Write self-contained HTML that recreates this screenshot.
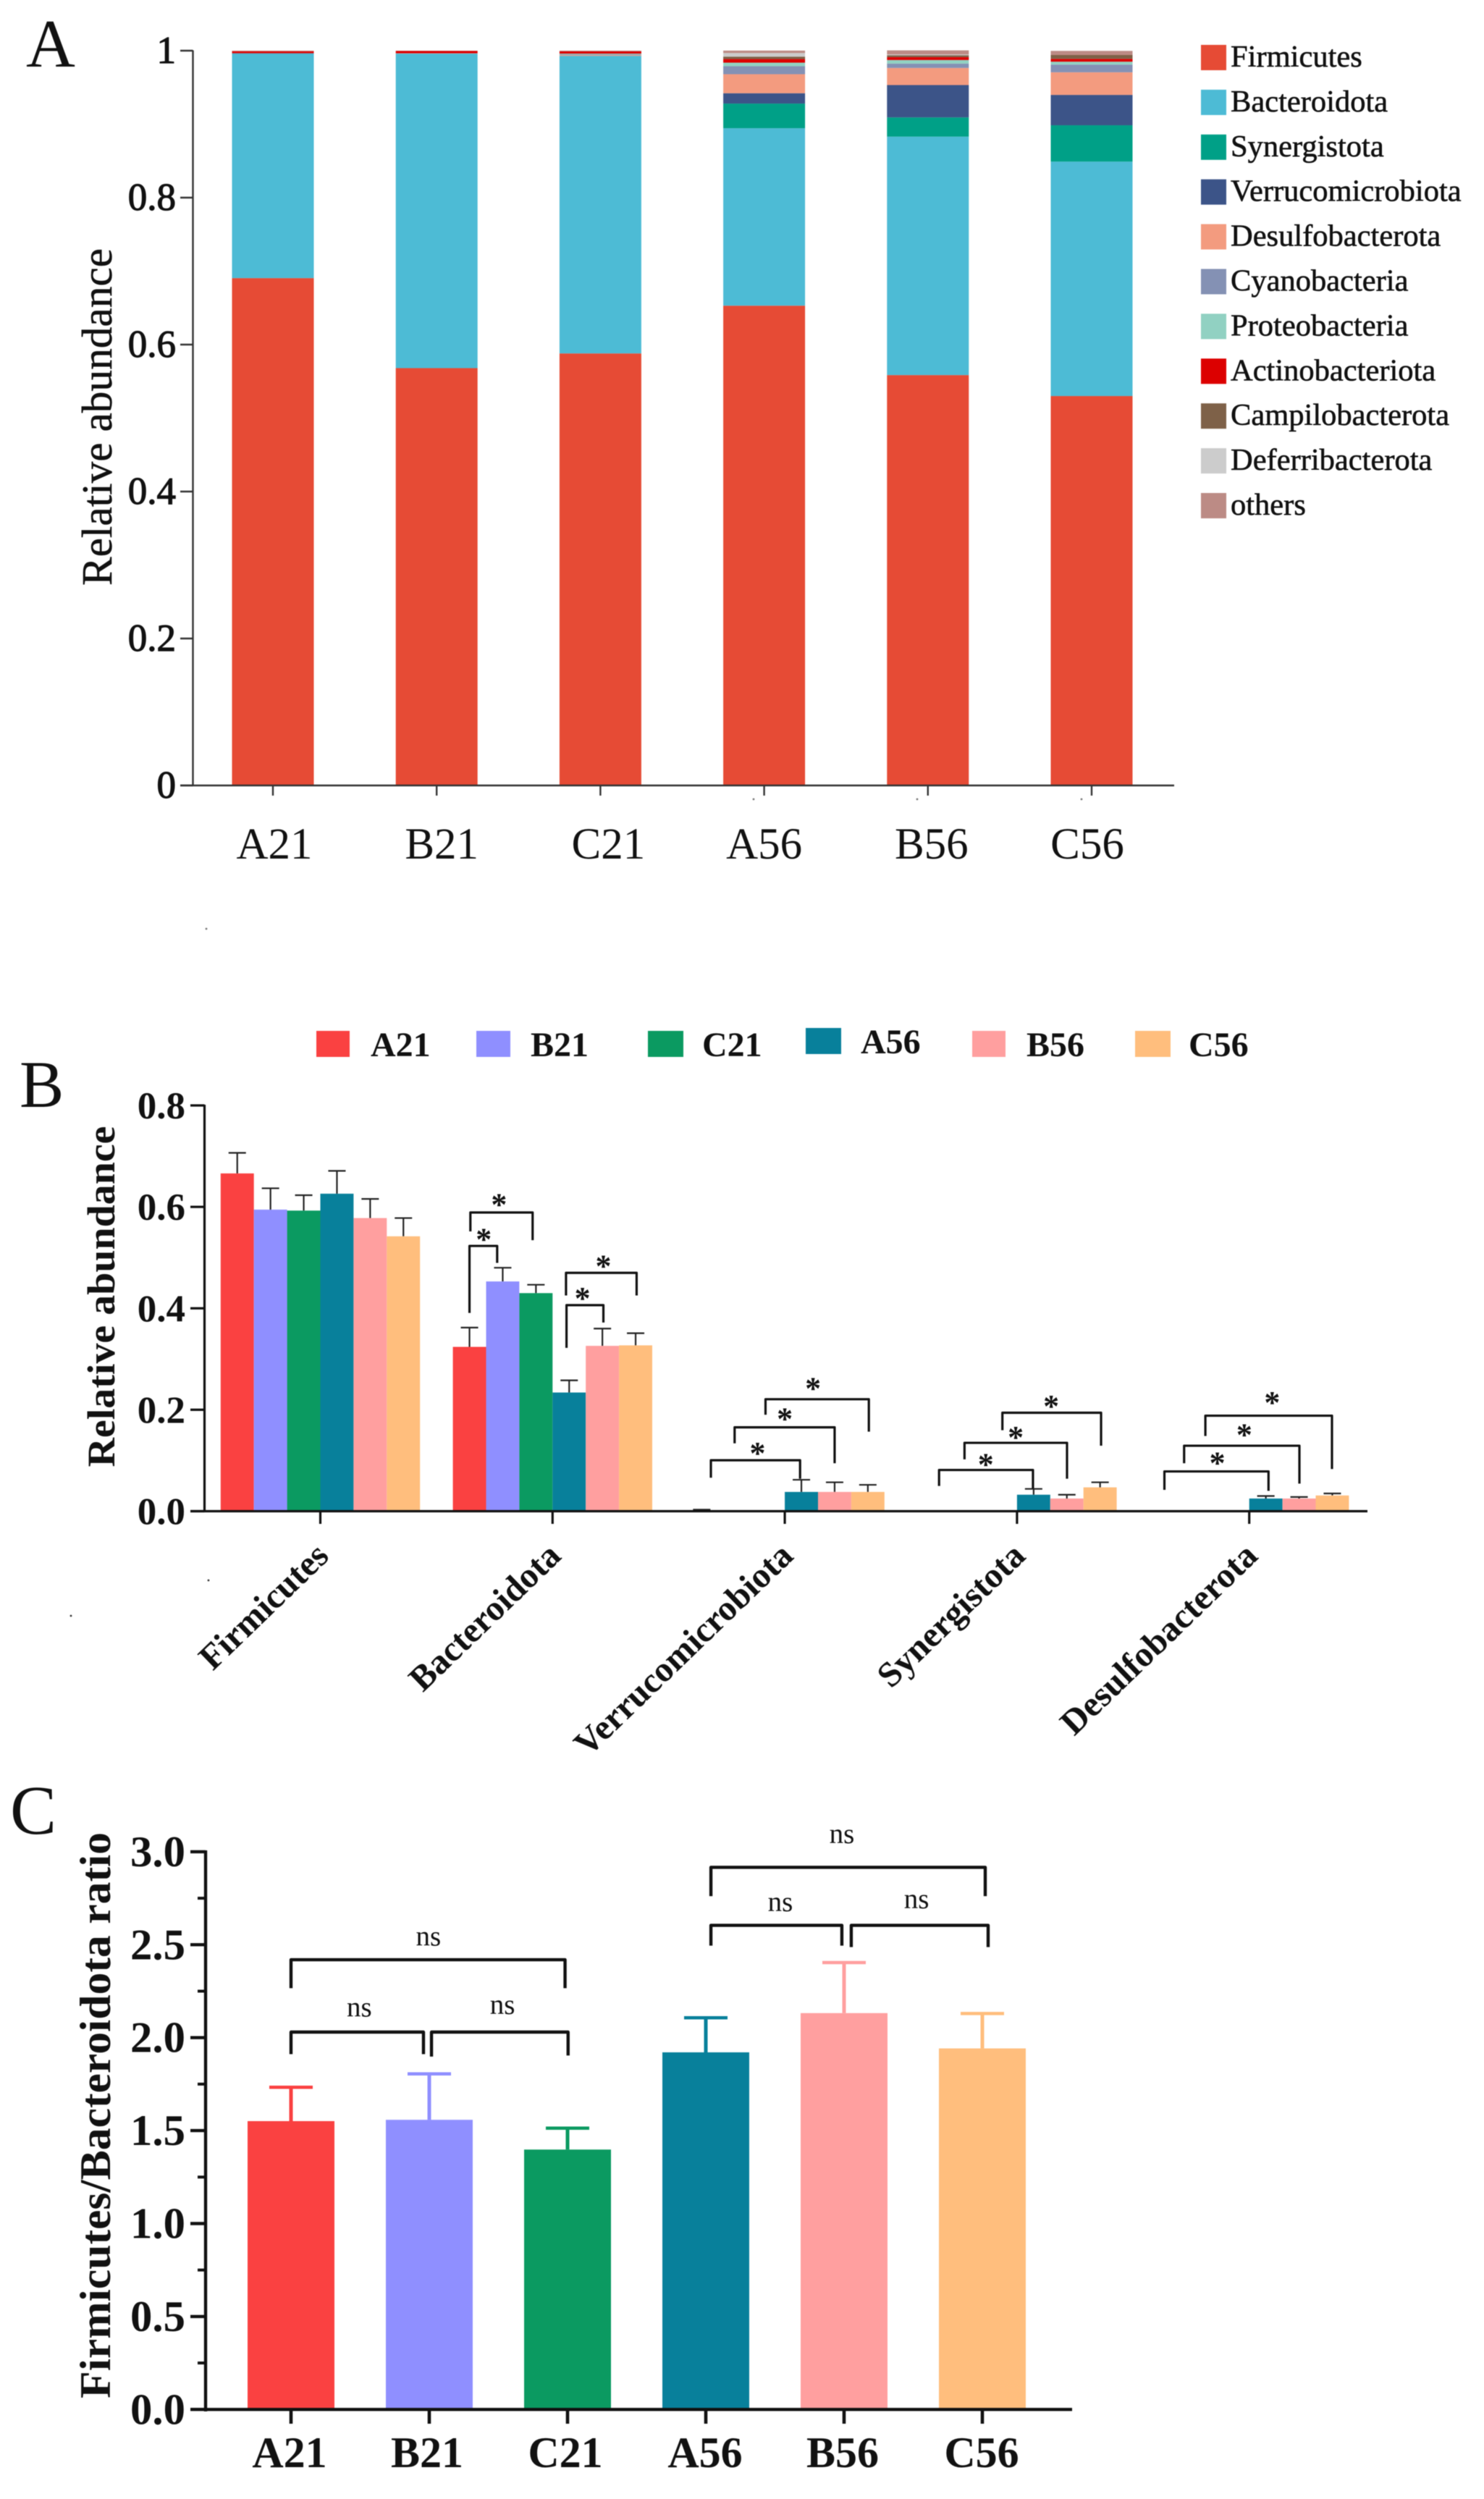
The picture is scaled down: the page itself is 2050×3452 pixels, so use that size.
<!DOCTYPE html>
<html lang="en">
<head>
<meta charset="utf-8">
<title>Gut microbiota relative abundance panels</title>
<style>
html,body{margin:0;padding:0;background:#fff;}
svg{display:block;font-family:"Liberation Serif",serif;filter:blur(0.5px);}
</style>
</head>
<body>
<svg id="figure" xmlns="http://www.w3.org/2000/svg" width="2050" height="3452" viewBox="0 0 2050 3452">
<rect width="2050" height="3452" fill="#ffffff"/>
<text x="36" y="92" font-size="94" fill="#111">A</text>
<text x="27" y="1529" font-size="92" fill="#111">B</text>
<text x="14" y="2533" font-size="96" fill="#111">C</text>
</svg>
<script>
/* ---------- Panel A data ---------- */
const samplesA = ['A21','B21','C21','A56','B56','C56'];
const phylaA = ['Firmicutes','Bacteroidota','Synergistota','Verrucomicrobiota','Desulfobacterota','Cyanobacteria','Proteobacteria','Actinobacteriota','Campilobacterota','Deferribacterota','others'];
const coloursA = ['#E64B35','#4DBBD5','#00A087','#3C5488','#F39B7F','#8491B4','#91D1C2','#DC0000','#7E6148','#CCCCCC','#BC8B85'];
const firmicutesA = [0.6905,0.568,0.588,0.653,0.5585,0.530];
const bacteroidotaA = [0.3055,0.428,0.405,0.2415,0.3245,0.319];
const synergistotaA = [0,0,0,0.0335,0.0262,0.0495];
const verrucoA = [0.0005,0,0,0.0141,0.044,0.0413];
const desulfoA = [0.0002,0.0003,0.001,0.0259,0.0233,0.0308];
const cyanoA = [0,0.0002,0.001,0.0108,0.0059,0.0105];
const proteoA = [0,0,0.001,0.0049,0.0049,0.0039];
const actinoA = [0.0025,0.003,0.003,0.0049,0.0039,0.0039];
const campiloA = [0,0,0,0.0033,0.0026,0.0052];
const deferriA = [0,0,0,0.0049,0.001,0];
const othersA = [0.0008,0.0005,0.001,0.0033,0.0056,0.0056];
const ticksA = [0,0.2,0.4,0.6,0.8,1];
const tickLabelsA = ['0','0.2','0.4','0.6','0.8','1'];

/* ---------- Panel B data ---------- */
const groupsB = ['Firmicutes','Bacteroidota','Verrucomicrobiota','Synergistota','Desulfobacterota'];
const treatments = ['A21','B21','C21','A56','B56','C56'];
const treatmentColours = ['#FA4141','#8F8FFF','#0B9A61','#08809B','#FF9F9F','#FFBE7D'];
const a21B = [0.666,0.324,0.002,0,0];
const b21B = [0.5946,0.453,0,0,0];
const c21B = [0.5927,0.430,0,0,0];
const a56B = [0.626,0.234,0.038,0.0325,0.025];
const b56B = [0.578,0.326,0.038,0.025,0.025];
const c56B = [0.542,0.327,0.038,0.047,0.031];
const a21ErrB = [0.0405,0.038,0.001,0,0];
const b21ErrB = [0.0421,0.027,0,0,0];
const c21ErrB = [0.0303,0.0165,0,0,0];
const a56ErrB = [0.045,0.024,0.024,0.0115,0.005];
const b56ErrB = [0.0377,0.034,0.019,0.0075,0.003];
const c56ErrB = [0.036,0.024,0.014,0.010,0.004];
const ticksB = [0,0.2,0.4,0.6,0.8];
const tickLabelsB = ['0.0','0.2','0.4','0.6','0.8'];
/* significance: group, left bar, right bar, top value, left end value, right end value, star bar, star value */
const sigB = [
 [1,0.527,2.40,0.589,0.5516,0.5344,1.39,0.6138],
 [1,0.50,1.333,0.523,0.391,0.4895,0.93,0.545],
 [1,3.405,5.53,0.470,0.4254,0.4254,4.53,0.4924],
 [1,3.42,4.53,0.4063,0.322,0.372,3.90,0.429],
 [2,0.776,3.46,0.1004,0.066,0.064,2.18,0.1233],
 [2,1.49,4.50,0.1654,0.1338,0.0946,3.0,0.1912],
 [2,2.42,5.53,0.2208,0.1902,0.1568,3.85,0.2514],
 [3,0.654,3.48,0.0813,0.0497,0.045,2.06,0.1013],
 [3,1.42,4.505,0.1348,0.1023,0.064,2.96,0.1549],
 [3,2.56,5.53,0.1941,0.1597,0.1291,4.03,0.2161],
 [4,0.447,3.58,0.0784,0.0421,0.0402,2.04,0.1042],
 [4,1.04,4.51,0.1291,0.0946,0.0545,2.85,0.1597],
 [4,1.68,5.49,0.1883,0.1482,0.0832,3.69,0.2237]
];

/* ---------- Panel C data ---------- */
const categoriesC = ['A21','B21','C21','A56','B56','C56'];
const ratioC = [1.551,1.558,1.398,1.921,2.132,1.942];
const ratioErrC = [0.182,0.247,0.115,0.186,0.272,0.188];
const ticksC = [0,0.5,1,1.5,2,2.5,3];
const tickLabelsC = ['0.0','0.5','1.0','1.5','2.0','2.5','3.0'];
const minorTicksC = [0.25,0.75,1.25,1.75,2.25,2.75];
/* significance: left category, right category, top value, left end value, right end value, label category, label value */
const sigC = [
 [0,1.982,2.419,2.266,2.266,0.994,2.495],
 [0,0.958,2.03,1.911,1.911,0.494,2.114],
 [1.016,2.004,2.03,1.898,1.904,1.529,2.127],
 [3.037,5.021,2.916,2.761,2.761,3.984,3.046],
 [3.037,3.984,2.604,2.495,2.495,3.539,2.68],
 [4.052,5.042,2.604,2.487,2.487,4.524,2.695]
];

/* ---------- helpers ---------- */
const SVGNS = 'http://www.w3.org/2000/svg';
const root = document.getElementById('figure');
function mk(tag, attrs, name, parent){
  const el = document.createElementNS(SVGNS, tag);
  for (const k in attrs) el.setAttribute(k, attrs[k]);
  
  
  (parent || root).appendChild(el);
  return el;
}
function txt(str, attrs, name, parent){
  const el = mk('text', attrs, name, parent);
  el.textContent = str;
  return el;
}
function line(x1,y1,x2,y2,stroke,w,name,parent){
  return mk('line',{x1:x1,y1:y1,x2:x2,y2:y2,stroke:stroke,'stroke-width':w},name,parent);
}
function slug(s){ return s.toLowerCase().replace(/[^a-z0-9]+/g,'-'); }

/* ---------- Panel A ---------- */
(function(){
  const g = mk('g',{},'stacked-bar-chart');
  const y = v => 1085 - v*1015;
  const x = i => 377 + i*226.2;
  const barW = 113;
  const series = [firmicutesA,bacteroidotaA,synergistotaA,verrucoA,desulfoA,cyanoA,proteoA,actinoA,campiloA,deferriA,othersA];
  samplesA.forEach((s,i)=>{
    let acc = 0;
    series.forEach((vals,k)=>{
      const v = vals[i];
      if (v>0) mk('rect',{x:x(i)-barW/2,y:y(acc+v),width:barW,height:y(acc)-y(acc+v),fill:coloursA[k]},'bar-'+slug(s)+'-'+slug(phylaA[k]),g);
      acc += v;
    });
  });
  const axisC = '#333';
  line(266.5,69.5,266.5,1086,axisC,2.4,'y-axis',g);
  line(249,1085,1622,1085,axisC,2.4,'x-axis',g);
  ticksA.forEach((t,i)=>{
    line(249,y(t),266.5,y(t),axisC,2.4,'y-tick',g);
    txt(tickLabelsA[i],{x:243,y:y(t)+17,'font-size':53,'text-anchor':'end',fill:'#111',stroke:'#111','stroke-width':1.2},'y-tick-label',g);
  });
  const labelOffset = [2,7,11,0,5,-6];
  samplesA.forEach((s,i)=>{
    line(x(i),1085,x(i),1099,axisC,2.4,'x-tick',g);
    txt(s,{x:x(i)+labelOffset[i],y:1186,'font-size':61,'text-anchor':'middle',fill:'#111'},'x-tick-label',g);
  });
  txt('Relative abundance',{transform:'translate(154,576) rotate(-90)','font-size':59,'text-anchor':'middle',textLength:466,lengthAdjust:'spacingAndGlyphs',fill:'#111',stroke:'#111','stroke-width':0.5},'y-axis-title',g);
  phylaA.forEach((p,i)=>{
    const top = 62 + i*61.9;
    mk('rect',{x:1659,y:top,width:35,height:35,fill:coloursA[i]},'legend-swatch-'+slug(p),g);
    txt(p,{x:1700,y:top+30,'font-size':42.5,fill:'#111',stroke:'#111','stroke-width':0.6},'legend-label-'+slug(p),g);
  });
  [[1041,1104],[1267,1104],[1494,1104],[285,1283]].forEach(d=>{
    mk('circle',{cx:d[0],cy:d[1],r:1.4,fill:'#777'},'speck',g);
  });
})();

/* ---------- Panel B ---------- */
(function(){
  const g = mk('g',{},'grouped-bar-chart');
  const y = v => 2087.5 - v*700.6;
  const barW = 45.9;
  const x = (grp,f) => 304.8 + grp*320.8 + f*barW;
  const vals = [a21B,b21B,c21B,a56B,b56B,c56B];
  const errs = [a21ErrB,b21ErrB,c21ErrB,a56ErrB,b56ErrB,c56ErrB];
  groupsB.forEach((name,gi)=>{
    vals.forEach((ser,si)=>{
      const v = ser[gi];
      if (v<=0) return;
      const cx = x(gi,si)+barW/2;
      const top = v + errs[si][gi];
      line(cx,y(v),cx,y(top),'#222',2.2,'error-stem',g);
      line(cx-12,y(top),cx+12,y(top),'#222',2.2,'error-cap',g);
      mk('rect',{x:x(gi,si),y:y(v),width:barW,height:y(0)-y(v),fill:treatmentColours[si]},'bar-'+slug(name)+'-'+slug(treatments[si]),g);
    });
  });
  line(282.5,1526,282.5,2089,'#111',3.2,'y-axis',g);
  line(263,2087.5,1889,2087.5,'#111',3.2,'x-axis',g);
  ticksB.forEach((t,i)=>{
    line(263,y(t),282.5,y(t),'#111',3.2,'y-tick',g);
    txt(tickLabelsB[i],{x:256,y:y(t)+18,'font-size':53,'font-weight':'bold','text-anchor':'end',fill:'#111'},'y-tick-label',g);
  });
  groupsB.forEach((name,gi)=>{
    const tx = x(gi,3);
    line(tx,2087.5,tx,2105,'#111',3.2,'x-tick',g);
    txt(name,{transform:'translate('+(tx+14)+',2152) rotate(-44)','font-size':49,'font-weight':'bold','text-anchor':'end',fill:'#111'},'x-tick-label',g);
  });
  txt('Relative abundance',{transform:'translate(158,1791) rotate(-90)','font-size':54,'font-weight':'bold','text-anchor':'middle',textLength:471,lengthAdjust:'spacingAndGlyphs',fill:'#111'},'y-axis-title',g);
  sigB.forEach(b=>{
    const xl = x(b[0],b[1]), xr = x(b[0],b[2]);
    mk('path',{d:'M'+xl+' '+y(b[4])+'V'+y(b[3])+'H'+xr+'V'+y(b[5]),fill:'none',stroke:'#111','stroke-width':3.2,'stroke-linejoin':'round'},'significance-bracket',g);
    txt('*',{x:x(b[0],b[6]),y:y(b[7])+21,'font-size':44,'font-weight':'bold','text-anchor':'middle',fill:'#111'},'significance-star',g);
  });
  const swatchLeft = [437,658,895,1113,1343,1568];
  const swatchWidth = [46,47,49,49,46,49];
  const swatchTop = [1424,1424,1424,1420,1424,1424];
  const labelLeft = [512,733,970,1189,1418,1642];
  treatments.forEach((t,i)=>{
    mk('rect',{x:swatchLeft[i],y:swatchTop[i],width:swatchWidth[i],height:36,fill:treatmentColours[i]},'legend-swatch-'+slug(t),g);
    txt(t,{x:labelLeft[i],y:swatchTop[i]+35,'font-size':48,'font-weight':'bold',fill:'#111'},'legend-label-'+slug(t),g);
  });
  [[288,2183],[98,2232]].forEach(d=>{
    mk('circle',{cx:d[0],cy:d[1],r:1.4,fill:'#333'},'speck',g);
  });
})();

/* ---------- Panel C ---------- */
(function(){
  const g = mk('g',{},'ratio-bar-chart');
  const y = v => 3328.3 - v*256.8;
  const x = i => 402 + i*191;
  const barW = 120;
  categoriesC.forEach((c,i)=>{
    const top = ratioC[i]+ratioErrC[i];
    line(x(i),y(ratioC[i]),x(i),y(top),treatmentColours[i],5,'error-stem',g);
    line(x(i)-30,y(top),x(i)+30,y(top),treatmentColours[i],4.5,'error-cap',g);
    mk('rect',{x:x(i)-barW/2,y:y(ratioC[i]),width:barW,height:y(0)-y(ratioC[i]),fill:treatmentColours[i]},'bar-'+slug(c),g);
  });
  line(284,2556,284,3331,'#111',4.4,'y-axis',g);
  line(263,3328.3,1481,3328.3,'#111',4.4,'x-axis',g);
  ticksC.forEach((t,i)=>{
    line(263,y(t),284,y(t),'#111',4.4,'y-tick',g);
    txt(tickLabelsC[i],{x:256,y:y(t)+20,'font-size':60,'font-weight':'bold','text-anchor':'end',textLength:76,lengthAdjust:'spacingAndGlyphs',fill:'#111'},'y-tick-label',g);
  });
  minorTicksC.forEach(t=>{
    line(273,y(t),284,y(t),'#111',4,'y-minor-tick',g);
  });
  const labelOffset = [-2,-3,-3,-1,-2,-1];
  categoriesC.forEach((c,i)=>{
    line(x(i),3328.3,x(i),3348,'#111',4.6,'x-tick',g);
    txt(c,{x:x(i)+labelOffset[i],y:3408,'font-size':60,'font-weight':'bold','text-anchor':'middle',fill:'#111'},'x-tick-label',g);
  });
  txt('Firmicutes/Bacteroidota ratio',{transform:'translate(152,2922) rotate(-90)','font-size':60,'font-weight':'bold','text-anchor':'middle',textLength:782,lengthAdjust:'spacingAndGlyphs',fill:'#111'},'y-axis-title',g);
  sigC.forEach(b=>{
    mk('path',{d:'M'+x(b[0])+' '+y(b[3])+'V'+y(b[2])+'H'+x(b[1])+'V'+y(b[4]),fill:'none',stroke:'#111','stroke-width':4.4,'stroke-linejoin':'round'},'significance-bracket',g);
    txt('ns',{x:x(b[5]),y:y(b[6]),'font-size':39,'text-anchor':'middle',fill:'#111'},'significance-label',g);
  });
})();
</script>
</body>
</html>
